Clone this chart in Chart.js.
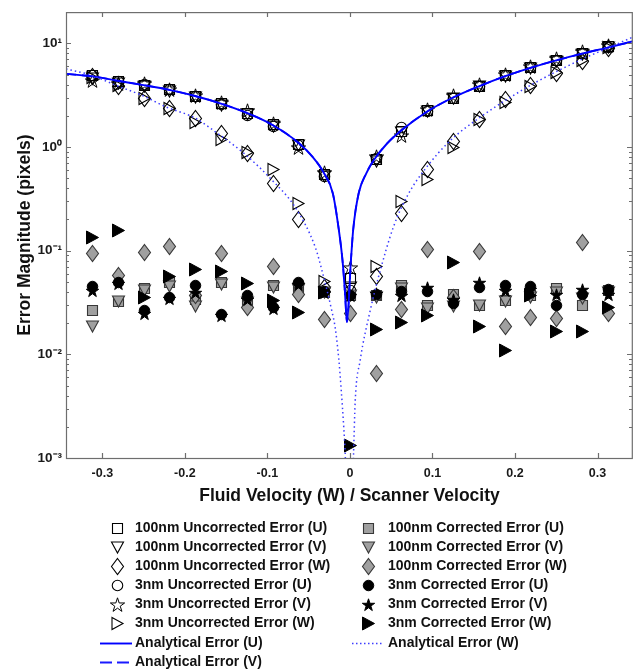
<!DOCTYPE html>
<html><head><meta charset="utf-8">
<script src="https://cdn.jsdelivr.net/npm/chart.js@4.4.1/dist/chart.umd.min.js"></script>
<style>html,body{margin:0;padding:0;background:#fff;}#wrap{width:633px;height:670px;}</style>
</head><body><div id="wrap"><canvas id="c" width="633" height="670"></canvas></div>
<script>
// ---------- data ----------
const xVals = [-0.3125, -0.28125, -0.25, -0.21875, -0.1875, -0.15625, -0.125, -0.09375, -0.0625, -0.03125, 0, 0.03125, 0.0625, 0.09375, 0.125, 0.15625, 0.1875, 0.21875, 0.25, 0.28125, 0.3125];

const unc100U = [4.9, 4.3, 4.0, 3.6, 3.1, 2.65, 2.15, 1.65, 1.07, 0.55, 0.054, 0.77, 1.42, 2.25, 3.0, 3.9, 4.9, 5.9, 6.9, 8.1, 9.4];
const unc100V = [4.6, 4.15, 3.9, 3.5, 3.05, 2.55, 2.1, 1.6, 1.04, 0.53, 0.045, 0.74, 1.4, 2.2, 2.95, 3.85, 4.8, 5.8, 6.8, 7.9, 9.2];
const unc100W = [4.8, 3.9, 3.0, 2.4, 1.9, 1.35, 0.87, 0.45, 0.2, 0.045, null, 0.057, 0.23, 0.62, 1.15, 1.87, 2.9, 4.0, 5.2, 6.7, 9.1];
const unc3U   = [5.0, 4.35, 4.05, 3.6, 3.1, 2.6, 2.05, 1.58, 1.05, 0.52, 0.042, 0.78, 1.55, 2.2, 3.0, 3.9, 4.9, 5.9, 6.9, 8.0, 9.3];
const unc3V   = [4.4, 4.1, 4.15, 3.65, 3.2, 2.7, 2.25, 1.72, 0.99, 0.57, 0.069, 0.82, 1.3, 2.35, 3.15, 4.05, 5.1, 6.1, 7.2, 8.4, 9.6];
const unc3W   = [4.7, 4.0, 3.0, 2.4, 1.75, 1.2, 0.9, 0.62, 0.29, 0.051, null, 0.071, 0.3, 0.49, 1.0, 1.85, 2.7, 3.9, 5.3, 6.9, 9.3];

const cor100U = [0.027, 0.0325, 0.044, 0.050, 0.0345, 0.050, 0.033, 0.047, 0.045, 0.040, 0.037, 0.037, 0.047, 0.030, 0.0386, 0.0297, 0.0334, 0.037, 0.0436, 0.0297, 0.042];
const cor100V = [0.0187, 0.0325, 0.042, 0.046, 0.029, 0.048, 0.032, 0.045, 0.043, 0.040, 0.037, 0.036, 0.044, 0.028, 0.029, 0.0297, 0.033, 0.036, 0.040, 0.035, 0.040];
const cor100W = [0.094, 0.058, 0.097, 0.112, 0.037, 0.095, 0.0286, 0.0706, 0.0385, 0.022, 0.025, 0.0066, 0.0274, 0.104, 0.036, 0.0985, 0.0188, 0.0229, 0.0222, 0.121, 0.0248];
const cor3U   = [0.046, 0.050, 0.0266, 0.0357, 0.047, 0.0243, 0.037, 0.0286, 0.050, 0.041, 0.037, 0.0386, 0.0405, 0.041, 0.0316, 0.045, 0.0464, 0.046, 0.0297, 0.0386, 0.043];
const cor3V   = [0.042, 0.049, 0.025, 0.035, 0.040, 0.024, 0.034, 0.028, 0.048, 0.040, 0.037, 0.039, 0.037, 0.0446, 0.034, 0.050, 0.042, 0.043, 0.038, 0.043, 0.038];
const cor3W   = [0.135, 0.157, 0.036, 0.057, 0.066, 0.063, 0.0488, 0.0337, 0.0256, 0.040, 0.00133, 0.0175, 0.0205, 0.0238, 0.0776, 0.0188, 0.011, 0.037, 0.0167, 0.0167, 0.0286];

// analytical curves
const anaUx = [-0.344, -0.3125, -0.28125, -0.25, -0.21875, -0.1875, -0.15625, -0.125, -0.09375, -0.0625, -0.045, -0.032, -0.0206, -0.0135, -0.009, -0.006, -0.0036, 0.0012, 0.004, 0.0105, 0.02, 0.0286, 0.045, 0.0625, 0.09375, 0.125, 0.15625, 0.1875, 0.21875, 0.25, 0.28125, 0.3125, 0.344];
const anaU  = [5.07, 4.8, 4.35, 3.95, 3.55, 3.1, 2.62, 2.13, 1.63, 1.1, 0.8, 0.57, 0.354, 0.16, 0.081, 0.04, 0.0205, 0.08, 0.16, 0.354, 0.56, 0.74, 1.08, 1.45, 2.2, 3.0, 3.85, 4.8, 5.8, 6.85, 7.95, 9.1, 10.5];
const anaV  = [5.07, 4.8, 4.35, 3.95, 3.55, 3.1, 2.62, 2.13, 1.63, 1.1, 0.8, 0.57, 0.354, 0.16, 0.081, 0.04, 0.0205, 0.08, 0.16, 0.354, 0.56, 0.74, 1.08, 1.45, 2.2, 3.0, 3.85, 4.8, 5.8, 6.85, 7.95, 9.1, 10.5];
const anaWx = [-0.344, -0.3125, -0.284, -0.25, -0.2236, -0.1875, -0.163, -0.127, -0.0945, -0.066, -0.042, -0.034, -0.0218, -0.0178, -0.0135, -0.0105, -0.0075, -0.0057, -0.005, 0.0038, 0.0044, 0.0064, 0.0125, 0.0246, 0.0347, 0.0528, 0.071, 0.093, 0.1215, 0.158, 0.218, 0.279, 0.3125, 0.344];
const anaW  = [5.67, 4.9, 3.95, 3.1, 2.45, 1.9, 1.4, 0.85, 0.48, 0.26, 0.108, 0.065, 0.026, 0.018, 0.009, 0.0045, 0.002, 0.0011, 0.0008, 0.0008, 0.0011, 0.0035, 0.0088, 0.0265, 0.056, 0.17, 0.354, 0.64, 1.15, 1.94, 3.9, 6.9, 9.0, 11.6];

const xTicks = [-0.3, -0.2, -0.1, 0, 0.1, 0.2, 0.3];
const xTickLabels = ['-0.3', '-0.2', '-0.1', '0', '0.1', '0.2', '0.3'];
const yTicks = [0.001, 0.01, 0.1, 1, 10];
const yTickLabels = ['10\u207B\u00B3', '10\u207B\u00B2', '10\u207B\u00B9', '10\u2070', '10\u00B9'];

const markerNames = [
  '100nm Uncorrected Error (U)', '100nm Uncorrected Error (V)', '100nm Uncorrected Error (W)',
  '3nm Uncorrected Error (U)', '3nm Uncorrected Error (V)', '3nm Uncorrected Error (W)',
  '100nm Corrected Error (U)', '100nm Corrected Error (V)', '100nm Corrected Error (W)',
  '3nm Corrected Error (U)', '3nm Corrected Error (V)', '3nm Corrected Error (W)'
];
const lineNames = ['Analytical Error (U)', 'Analytical Error (V)', 'Analytical Error (W)'];

// ---------- markers ----------
function makeMarker(shape, fill, stroke, w, h, lw) {
  const c = document.createElement('canvas');
  c.width = Math.ceil(w) + 5; c.height = Math.ceil(h) + 5;
  const g = c.getContext('2d');
  const cx = Math.floor(c.width / 2) + 0.5, cy = Math.floor(c.height / 2) + 0.5;
  g.beginPath();
  if (shape === 'square') g.rect(cx - w / 2, cy - h / 2, w, h);
  else if (shape === 'circle') g.arc(cx, cy, w / 2, 0, Math.PI * 2);
  else if (shape === 'diamond') { g.moveTo(cx, cy - h / 2); g.lineTo(cx + w / 2, cy); g.lineTo(cx, cy + h / 2); g.lineTo(cx - w / 2, cy); }
  else if (shape === 'triDown') { g.moveTo(cx - w / 2, cy - h / 2); g.lineTo(cx + w / 2, cy - h / 2); g.lineTo(cx, cy + h / 2); }
  else if (shape === 'triRight') { g.moveTo(cx - w / 2, cy - h / 2); g.lineTo(cx + w / 2, cy); g.lineTo(cx - w / 2, cy + h / 2); }
  else if (shape === 'star') {
    const R = w / 2, r = R * 0.382;
    for (let i = 0; i < 10; i++) {
      const a = -Math.PI / 2 + i * Math.PI / 5, rr = i % 2 ? r : R;
      const px = cx + rr * Math.cos(a), py = cy + 0.8 + rr * Math.sin(a);
      if (i) g.lineTo(px, py); else g.moveTo(px, py);
    }
  }
  g.closePath();
  if (fill) { g.fillStyle = fill; g.fill(); }
  g.lineWidth = lw; g.strokeStyle = stroke; g.lineJoin = 'miter'; g.stroke();
  return c;
}
const HS = '#000000', GF = '#a0a0a0', GS = '#383838', BK = '#000000';
const markers = [
  makeMarker('square', null, HS, 10, 10, 1.1),
  makeMarker('triDown', null, HS, 12, 11, 1.1),
  makeMarker('diamond', null, HS, 12, 16, 1.1),
  makeMarker('circle', null, HS, 10.5, 10.5, 1.1),
  makeMarker('star', null, HS, 15, 15, 1.0),
  makeMarker('triRight', null, HS, 11, 12, 1.1),
  makeMarker('square', GF, GS, 10, 10, 1.1),
  makeMarker('triDown', GF, GS, 12, 11, 1.1),
  makeMarker('diamond', GF, GS, 12, 16, 1.1),
  makeMarker('circle', BK, BK, 10.5, 10.5, 1),
  makeMarker('star', BK, BK, 13, 13, 1),
  makeMarker('triRight', BK, BK, 12, 13, 1)
];
const markerSeries = [unc100U, unc100V, unc100W, unc3U, unc3V, unc3W, cor100U, cor100V, cor100W, cor3U, cor3V, cor3W];

const toPts = (xs, ys) => xs.map((x, i) => ({ x: x, y: ys[i] })).filter(p => p.y !== null);

// marker datasets: positions come from Chart.js scales; the marker glyph is stamped at the
// element position (snapped to whole pixels) by the plugin below.
const datasets = markerSeries.map((ys, i) => ({
  label: markerNames[i], data: toPts(xVals, ys), pointStyle: markers[i], pointRadius: 0,
  showLine: false, order: 100 - i, markerIndex: i
}));
const lineStyles = [
  { color: '#1a1aff', width: 1.8, dash: [10, 6] },
  { color: '#0000ff', width: 1.9, dash: [] },
  { color: '#3c3cff', width: 1.5, dash: [1.5, 3] }
];
datasets.push({ label: lineNames[1], data: toPts(anaUx, anaV), showLine: true, pointRadius: 0, borderColor: lineStyles[0].color, borderWidth: lineStyles[0].width, borderDash: lineStyles[0].dash, cubicInterpolationMode: 'monotone', capBezierPoints: false, order: 2 });
datasets.push({ label: lineNames[0], data: toPts(anaUx, anaU), showLine: true, pointRadius: 0, borderColor: lineStyles[1].color, borderWidth: lineStyles[1].width, borderDash: lineStyles[1].dash, cubicInterpolationMode: 'monotone', capBezierPoints: false, order: 1 });
datasets.push({ label: lineNames[2], data: toPts(anaWx, anaW), showLine: true, pointRadius: 0, borderColor: lineStyles[2].color, borderWidth: lineStyles[2].width, borderDash: lineStyles[2].dash, cubicInterpolationMode: 'monotone', capBezierPoints: false, order: 0 });

// ---------- plugins ----------
const FONT = "'Liberation Sans', Arial, Helvetica, sans-serif";
const markerStamp = {
  id: 'markerStamp',
  beforeDatasetsDraw(chart) {
    const { ctx, chartArea: a } = chart;
    ctx.save();
    ctx.beginPath();
    ctx.rect(a.left, a.top - 8, a.right - a.left, a.bottom - a.top + 8);
    ctx.clip();
    chart.data.datasets.forEach((ds, di) => {
      if (ds.markerIndex === undefined) return;
      const meta = chart.getDatasetMeta(di);
      const m = markers[ds.markerIndex];
      meta.data.forEach(el => {
        ctx.drawImage(m, Math.round(el.x) - Math.floor(m.width / 2), Math.round(el.y) - Math.floor(m.height / 2));
      });
    });
    ctx.restore();
  }
};
const frame = {
  id: 'frame',
  afterDraw(chart) {
    const { ctx, chartArea: a, scales: { x, y } } = chart;
    ctx.save();
    ctx.strokeStyle = '#6e6e6e'; ctx.lineWidth = 1.2;
    ctx.strokeRect(a.left + 0.5, a.top + 0.5, a.right - a.left - 1.2, a.bottom - a.top);
    ctx.beginPath();
    xTicks.forEach(v => {
      const p = Math.round(x.getPixelForValue(v)) + 0.5;
      ctx.moveTo(p, a.bottom); ctx.lineTo(p, a.bottom - 5);
      ctx.moveTo(p, a.top); ctx.lineTo(p, a.top + 5);
    });
    for (let n = -3; n <= 1; n++) {
      for (let k = 1; k <= 9; k++) {
        const v = k * Math.pow(10, n);
        if (v > 20) continue;
        const p = Math.round(y.getPixelForValue(v)) + 0.5;
        const L = k === 1 ? 5 : 3;
        ctx.moveTo(a.left, p); ctx.lineTo(a.left + L, p);
        ctx.moveTo(a.right - 1, p); ctx.lineTo(a.right - 1 - L, p);
      }
    }
    ctx.stroke();
    ctx.restore();

    // legend
    const rows = [528, 547, 566, 585, 604, 623, 643, 662];
    ctx.save();
    ctx.font = 'bold 14px ' + FONT;
    ctx.fillStyle = '#111111';
    ctx.textBaseline = 'middle';
    for (let i = 0; i < 12; i++) {
      const col = i < 6 ? 0 : 1, row = i % 6;
      const mx = col ? 368 : 117, tx = col ? 388 : 135;
      const m = markers[i];
      ctx.drawImage(m, mx - Math.floor(m.width / 2), rows[row] - Math.floor(m.height / 2));
      ctx.fillText(markerNames[i], tx, rows[row]);
    }
    const lineLeg = [
      { name: lineNames[0], st: lineStyles[1], x0: 100, x1: 132, tx: 135, y: rows[6] },
      { name: lineNames[1], st: { color: '#1a1aff', width: 1.8, dash: [12, 5] }, x0: 100, x1: 129, tx: 135, y: rows[7] },
      { name: lineNames[2], st: { color: '#3c3cff', width: 1.3, dash: [1.5, 2.5] }, x0: 352, x1: 383, tx: 388, y: rows[6] }
    ];
    lineLeg.forEach(l => {
      ctx.beginPath();
      ctx.strokeStyle = l.st.color; ctx.lineWidth = l.st.width; ctx.setLineDash(l.st.dash);
      ctx.moveTo(l.x0, l.y + 0.5); ctx.lineTo(l.x1, l.y + 0.5); ctx.stroke();
      ctx.setLineDash([]);
      ctx.fillText(l.name, l.tx, l.y);
    });
    ctx.restore();
  }
};

Chart.defaults.font.family = FONT;
Chart.defaults.color = '#1a1a1a';

new Chart(document.getElementById('c'), {
  type: 'scatter',
  data: { datasets: datasets },
  options: {
    responsive: false, animation: false, events: [],
    layout: { padding: { top: 11, left: 0, right: 0, bottom: 0 } },
    plugins: { legend: { display: false }, tooltip: { enabled: false } },
    scales: {
      x: {
        type: 'linear', min: -0.344, max: 0.343,
        afterBuildTicks: s => { s.ticks = xTicks.map(v => ({ value: v })); },
        afterFit: s => { s.height = 212; },
        grid: { display: false, drawTicks: false },
        border: { display: false },
        ticks: { autoSkip: false, maxRotation: 0, padding: 8, font: { size: 12.5, weight: 'bold' }, color: '#1a1a1a',
          callback: (v, i) => xTickLabels[i] },
        title: { display: true, text: 'Fluid Velocity (W) / Scanner Velocity', color: '#111111',
          font: { size: 17.5, weight: 'bold' }, padding: { top: 0, bottom: 163 } }
      },
      y: {
        type: 'logarithmic', min: 0.001, max: 20,
        afterBuildTicks: s => { s.ticks = yTicks.map(v => ({ value: v })); },
        afterFit: s => { s.width = 66; },
        grid: { display: false, drawTicks: false },
        border: { display: false },
        ticks: { autoSkip: false, padding: 4, font: { size: 13.5, weight: 'bold' }, color: '#1a1a1a',
          callback: (v, i) => yTickLabels[i] },
        title: { display: true, text: 'Error Magnitude (pixels)', color: '#111111',
          font: { size: 17.5, weight: 'bold' }, padding: { top: 15, bottom: 0 } }
      }
    }
  },
  plugins: [markerStamp, frame]
});
</script>
</body></html>
